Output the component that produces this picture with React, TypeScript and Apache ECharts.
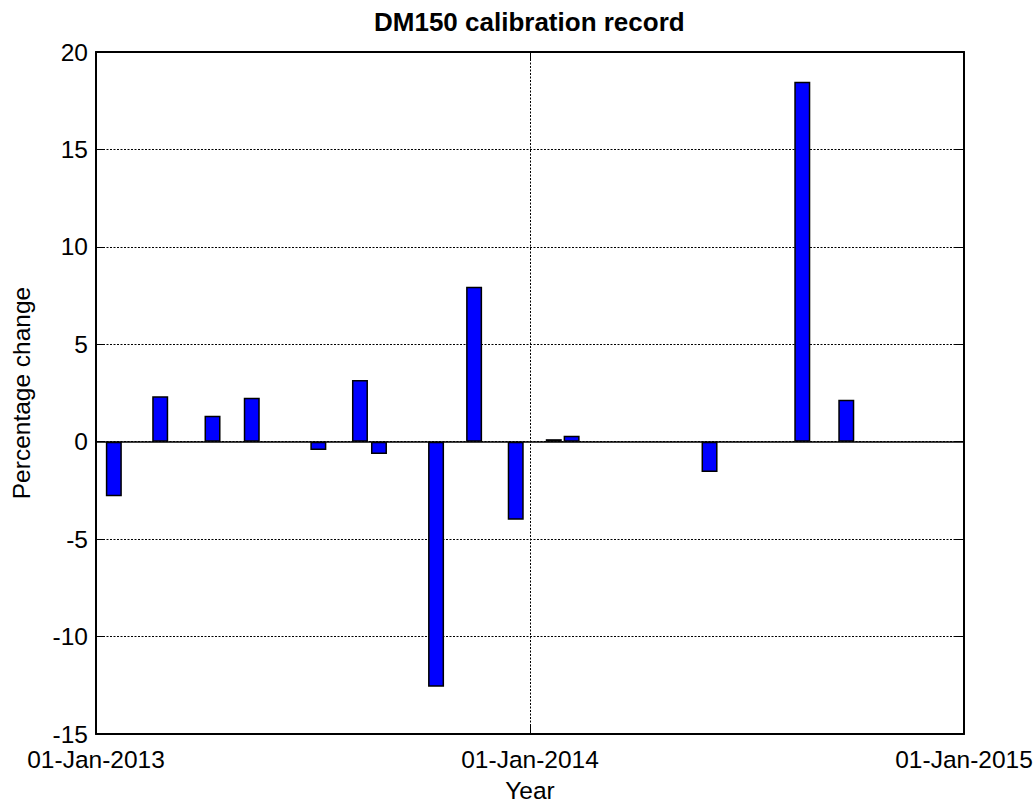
import React, { useEffect, useRef } from "react";
import * as echarts from "echarts";

// Calibration dates and the percentage change recorded on each
const calibrationDates = [
  "2013-01-16",
  "2013-02-24",
  "2013-04-09",
  "2013-05-12",
  "2013-07-07",
  "2013-08-11",
  "2013-08-27",
  "2013-10-14",
  "2013-11-15",
  "2013-12-20",
  "2014-01-21",
  "2014-02-05",
  "2014-06-01",
  "2014-08-18",
  "2014-09-24",
];
const percentChange = [
  -2.8, 2.33, 1.33, 2.25, -0.43, 3.17, -0.63, -12.58, 7.95, -4.0, 0.13, 0.31,
  -1.55, 18.47, 2.15,
];

const xTickLabels = ["01-Jan-2013", "01-Jan-2014", "01-Jan-2015"];
const yTicks = [-15, -10, -5, 0, 5, 10, 15, 20];

const DAY_MS = 86400000;
const ORIGIN = Date.UTC(2013, 0, 1);
const TICK_STEP_DAYS = 365;
const dayOffset = (iso: string) =>
  (Date.parse(iso + "T00:00:00Z") - ORIGIN) / DAY_MS;

const FONT = "'Liberation Sans', Arial, Helvetica, sans-serif";
const LABEL_SIZE = 24.5;

export default function App() {
  const ref = useRef<HTMLDivElement>(null);

  useEffect(() => {
    if (!ref.current) return;
    const chart = echarts.init(ref.current, null, { renderer: "svg" });

    const barData = calibrationDates.map((d, i) => [dayOffset(d), percentChange[i]]);
    const xMax = (xTickLabels.length - 1) * TICK_STEP_DAYS;
    const yMin = yTicks[0];
    const yMax = yTicks[yTicks.length - 1];

    const dotted = { color: "#000", width: 1, type: [2, 1.5] as number[] };
    const border = { show: true, lineStyle: { color: "#000", width: 2 } };
    const innerTick = { show: true, inside: true, length: 9, lineStyle: { color: "#000", width: 1 } };

    chart.setOption({
      animation: false,
      backgroundColor: "#fff",
      title: {
        text: "DM150 calibration record",
        left: 369,
        top: 4,
        textStyle: { fontFamily: FONT, fontSize: 26, fontWeight: "bold", color: "#000" },
      },
      grid: {
        left: 96,
        right: 71,
        top: 52,
        bottom: 69,
        containLabel: false,
        outerBoundsMode: "none",
      },
      xAxis: [
        {
          type: "value",
          min: 0,
          max: xMax,
          interval: TICK_STEP_DAYS,
          name: "Year",
          nameLocation: "middle",
          nameGap: 44,
          nameTextStyle: { fontFamily: FONT, fontSize: LABEL_SIZE, color: "#000" },
          axisLine: { ...border, onZero: false },
          axisTick: innerTick,
          axisLabel: {
            show: true,
            margin: 13,
            fontFamily: FONT,
            fontSize: LABEL_SIZE,
            color: "#000",
            showMinLabel: true,
            showMaxLabel: true,
            formatter: (v: number) => xTickLabels[Math.round(v / TICK_STEP_DAYS)] ?? "",
          },
          splitLine: { show: true, lineStyle: dotted },
        },
        {
          type: "value",
          position: "top",
          min: 0,
          max: xMax,
          interval: TICK_STEP_DAYS,
          axisLine: { ...border, onZero: false },
          axisTick: innerTick,
          axisLabel: { show: false },
          splitLine: { show: false },
        },
      ],
      yAxis: [
        {
          type: "value",
          min: yMin,
          max: yMax,
          interval: 5,
          name: "Percentage change",
          nameLocation: "middle",
          nameGap: 62,
          nameTextStyle: { fontFamily: FONT, fontSize: LABEL_SIZE, color: "#000" },
          axisLine: { ...border, onZero: false },
          axisTick: innerTick,
          axisLabel: {
            margin: 8,
            fontFamily: FONT,
            fontSize: LABEL_SIZE,
            color: "#000",
            showMinLabel: true,
            showMaxLabel: true,
          },
          splitLine: { show: true, lineStyle: dotted },
        },
        {
          type: "value",
          position: "right",
          min: yMin,
          max: yMax,
          interval: 5,
          axisLine: { ...border, onZero: false },
          axisTick: innerTick,
          axisLabel: { show: false },
          splitLine: { show: false },
        },
      ],
      series: [
        {
          type: "bar",
          xAxisIndex: 0,
          yAxisIndex: 0,
          data: barData,
          barWidth: 16,
          itemStyle: { color: "#0000ff", borderColor: "#000", borderWidth: 1.5 },
          markLine: {
            silent: true,
            symbol: "none",
            label: { show: false },
            lineStyle: { color: "#000", type: "solid", width: 1.5 },
            data: [{ yAxis: 0 }],
          },
        },
      ],
    });

    return () => chart.dispose();
  }, []);

  return (
    <div
      ref={ref}
      style={{ position: "absolute", left: 0, top: 0, width: 1035, height: 803, background: "#fff" }}
    />
  );
}
